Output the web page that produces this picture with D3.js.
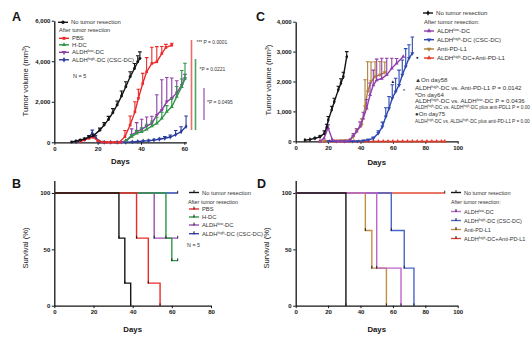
<!DOCTYPE html>
<html>
<head>
<meta charset="utf-8">
<script src="https://cdn.jsdelivr.net/npm/d3@7"></script>
<style>
body { margin: 0; background: #fff; }
svg { display: block; font-family: "Liberation Sans", Arial, sans-serif; }
</style>
</head>
<body>
<svg id="fig" width="531" height="337"></svg>
<script>
"use strict";

// ---- Tumor growth, panel A: [day, mean volume (mm3), upper error] ----
var growthA_noResection = [[8,20,0],[10,60,0],[12,110,20],[14,160,40],[16,260,60],[18,320,80],[21,600,100],[23,850,120],[25,1130,150],[27,1460,200],[29,1840,200],[31,2280,250],[33,2740,250],[35,3230,250],[37,3640,250],[38.5,3970,300],[39.5,4140,320]];
var growthA_pbs = [[12,40,0],[14,120,30],[16,200,50],[18,250,60],[20,80,0],[22,10,0],[24,0,0],[26,0,0],[28,0,0],[30,0,0],[32.6,280,300],[35,850,450],[37.2,1500,500],[38.8,2170,450],[40.8,2900,500],[42.6,3480,700],[45,3890,800],[47.3,3970,750],[49.6,4380,350],[51.5,4680,150],[54.2,4790,100]];
var growthA_hdc = [[33,80,0],[35.7,280,100],[38,440,150],[40.3,520,200],[42.6,640,250],[45,800,250],[47.3,935,300],[49.6,1180,300],[51.9,1510,300],[54.2,1750,400],[56.5,2250,500],[58.8,2740,800],[60.3,3150,750]];
var growthA_lowDC = [[31,0,0],[33.4,100,0],[35.7,360,300],[38,520,450],[40.3,640,500],[42.6,800,450],[45,935,350],[47.3,1345,1000],[49.6,1590,1500],[51.9,2000,1200],[54.2,2170,1000],[56.5,2440,600],[58.8,2820,300],[60.3,3150,200]];
var growthA_highDC = [[10,20,0],[12,60,20],[14,150,50],[16,250,80],[17.5,450,150],[19,250,80],[21,30,0],[23,0,0],[26,0,0],[29,0,0],[33,0,0],[36,20,0],[38.5,40,0],[41,60,20],[43.5,80,30],[46,110,40],[48.5,150,50],[51,200,80],[53.5,260,100],[56,380,200],[58.5,520,250],[60.8,780,520]];

// ---- Tumor growth, panel C ----
var growthC_noResection = [[5.7,40,0],[8.8,60,0],[11.9,100,20],[15,150,30],[17.7,270,80],[19.1,470,100],[20.1,710,120],[22.2,1050,120],[23.8,1320,120],[26.3,1720,120],[27.9,1940,150],[29.4,2160,150],[31.5,2830,170]];
var growthC_lowDC = [[15,0,0],[17.5,100,0],[20,450,100],[22.6,50,0],[25,0,0],[28,0,0],[31,0,0],[33.5,50,0],[35.6,200,60],[37.6,330,80],[39.7,500,150],[41.7,770,200],[43.8,1100,300],[45.9,1550,400],[47.9,1880,500],[50,2050,700],[53.1,2100,680],[56.2,2220,560],[59.3,2440,340],[62.3,2610,160],[66.4,2830,0]];
var growthC_antiPD = [[15,0,0],[33.5,50,0],[35.5,150,50],[37.6,330,100],[40.7,550,200],[42.8,1160,900],[44.4,1660,1000],[46.5,2000,650],[49,2160,500],[52,2220,450],[55,2300,350]];
var growthC_highDC = [[20,0,0],[25,0,0],[30,0,0],[35,0,0],[38,0,0],[41.7,20,0],[44.8,50,20],[47.9,100,40],[51,270,80],[53.5,490,150],[55.6,820,300],[57.6,1100,400],[59.6,1440,450],[61.7,1660,450],[63.8,1880,500],[65.8,2220,500],[67.9,2500,600],[69.9,2780,450],[72,2940,550]];
var growthC_combo = [[15,0,0],[18,0,0],[21,0,0],[24,0,0],[27,0,0],[30,0,0],[33,0,0],[36,0,0],[39,0,0],[42,0,0],[45,0,0],[48,0,0],[51,0,0],[54,0,0],[57,0,0],[60,0,0],[63,0,0],[66,0,0],[69,0,0],[72,0,0],[75,0,0],[78,0,0],[81,0,0],[84,0,0],[87,0,0],[90,0,0],[92,0,0]];

// ---- Survival, panel B: [day, percent surviving] ----
var survB_noResection = [[0,100],[33,60],[36,20],[39,0]];
var survB_pbs = [[0,100],[42,60],[48,20],[54,0]];
var survB_hdc = [[0,100],[57,60],[60,40],[63,40]];
var survB_lowDC = [[0,100],[51,60],[63,60]];
var survB_highDC = [[0,100],[63,100]];

// ---- Survival, panel D ----
var survD_noResection = [[0,100],[31,0]];
var survD_antiPD = [[0,100],[43,66.7],[47,33.3],[56,0]];
var survD_lowDC = [[0,100],[50,33.3],[65,0]];
var survD_highDC = [[0,100],[59,66.7],[67,33.3],[73,0]];
var survD_combo = [[0,100],[92,100]];

// ---- tick values ----
var ticksA_x = [0, 20, 40, 60];
var ticksA_y = [0, 2000, 4000, 6000];
var ticksC_x = [0, 20, 40, 60, 80, 100];
var ticksC_y = [0, 1000, 2000, 3000, 4000];
var ticksB_x = [0, 20, 40, 60, 80];
var ticksD_x = [0, 20, 40, 60, 80, 100];
var ticksSurv_y = [0, 50, 100];

// legend labels, as [text, superscript?] pieces
var lblNoResection = [["No tumor resection"]];
var lblPBS = [["PBS"]];
var lblHDC = [["H-DC"]];
var lblLow = [["ALDH"], ["low", 1], ["-DC"]];
var lblHigh = [["ALDH"], ["high", 1], ["-DC (CSC-DC)"]];
var lblAnti = [["Anti-PD-L1"]];
var lblCombo = [["ALDH"], ["high", 1], ["-DC+Anti-PD-L1"]];

var BLACK = "#151515";

var svg = d3.select("#fig");

function rich(textSel, parts) {
    parts.forEach(function(p) {
        var t = textSel.append("tspan").text(p[0]);
        if (p[1]) t.attr("baseline-shift", "super").style("font-size", "65%");
    });
    return textSel;
}

function styleAxis(sel, fs) {
    sel.select(".domain").attr("stroke", BLACK).attr("stroke-width", 1.3);
    sel.selectAll(".tick line").attr("stroke", BLACK).attr("stroke-width", 1);
    sel.selectAll(".tick text").attr("fill", BLACK).style("font-size", fs + "px").style("font-weight", "bold");
}

function frame(cfg) {
    var x = d3.scaleLinear().domain(cfg.xDomain).range(cfg.xRange);
    var y = d3.scaleLinear().domain(cfg.yDomain).range(cfg.yRange);
    var g = svg.append("g");

    var xa = g.append("g").attr("transform", "translate(0," + cfg.yRange[0] + ")")
        .call(d3.axisBottom(x).tickValues(cfg.xTicks).tickSize(2.5).tickSizeOuter(0).tickPadding(2));
    styleAxis(xa, 6);
    var ya = g.append("g").attr("transform", "translate(" + cfg.xRange[0] + ",0)")
        .call(d3.axisLeft(y).tickValues(cfg.yTicks).tickFormat(d3.format(",")).tickSize(2.5).tickSizeOuter(0).tickPadding(1.5));
    styleAxis(ya, 6);

    g.append("text")
        .attr("x", (cfg.xRange[0] + cfg.xRange[1]) / 2).attr("y", cfg.daysY)
        .attr("text-anchor", "middle").attr("fill", BLACK)
        .style("font-size", "7.8px").style("font-weight", "bold")
        .text("Days");

    var yt = g.append("text")
        .attr("transform", "translate(" + cfg.titleX + "," + cfg.titleY + ") rotate(-90)")
        .attr("text-anchor", "middle").attr("fill", BLACK)
        .style("font-size", "7.6px");
    rich(yt, cfg.yTitle);

    g.append("text").attr("x", cfg.letter[1]).attr("y", cfg.letter[2])
        .attr("fill", BLACK).style("font-size", "12.5px").style("font-weight", "bold")
        .text(cfg.letter[0]);

    return { g: g, x: x, y: y };
}

// Mean tumor volume with upward error bars and symbols.
function growthSeries(p, data, color, symType, rotate, width) {
    var g = p.g.append("g");
    g.selectAll("path.err").data(data.filter(function(d) { return d[2] > 0; }))
        .enter().append("path")
        .attr("class", "err")
        .attr("d", function(d) {
            var cx = p.x(d[0]), y0 = p.y(d[1]), y1 = p.y(d[1] + d[2]);
            return "M" + cx + "," + y0 + "V" + y1 + "M" + (cx - 1.8) + "," + y1 + "H" + (cx + 1.8);
        })
        .attr("fill", "none").attr("stroke", color).attr("stroke-width", 1.1);
    g.append("path").datum(data)
        .attr("d", d3.line().x(function(d) { return p.x(d[0]); }).y(function(d) { return p.y(d[1]); }))
        .attr("fill", "none").attr("stroke", color).attr("stroke-width", width || 1.4);
    g.selectAll("path.sym").data(data).enter().append("path")
        .attr("class", "sym")
        .attr("transform", function(d) { return "translate(" + p.x(d[0]) + "," + p.y(d[1]) + ") rotate(" + (rotate || 0) + ")"; })
        .attr("d", d3.symbol().type(symType).size(7))
        .attr("fill", color);
}

// Kaplan-Meier step curve with event / censor ticks.
function survivalSeries(p, data, color) {
    var g = p.g.append("g");
    g.append("path").datum(data)
        .attr("d", d3.line().curve(d3.curveStepAfter).x(function(d) { return p.x(d[0]); }).y(function(d) { return p.y(d[1]); }))
        .attr("fill", "none").attr("stroke", color).attr("stroke-width", 1.4);
    g.selectAll("path.tick").data(data.slice(1)).enter().append("path")
        .attr("class", "tick")
        .attr("d", function(d) {
            var cx = p.x(d[0]), cy = p.y(d[1]);
            return "M" + cx + "," + (cy + 0.5) + "V" + (cy - 2.3);
        })
        .attr("stroke", BLACK).attr("stroke-width", 0.9);
}

function growthLegend(g, lx, ly, color, symType, rotate, label, fs) {
    g.append("line").attr("x1", lx).attr("x2", lx + 10).attr("y1", ly).attr("y2", ly)
        .attr("stroke", color).attr("stroke-width", 1.4);
    g.append("path").attr("transform", "translate(" + (lx + 5) + "," + ly + ") rotate(" + (rotate || 0) + ")")
        .attr("d", d3.symbol().type(symType).size(9)).attr("fill", color);
    rich(g.append("text").attr("x", lx + 13).attr("y", ly + 2).attr("fill", "#333").style("font-size", fs + "px"), label);
}

function survLegend(g, lx, ly, color, label, fs) {
    g.append("line").attr("x1", lx).attr("x2", lx + 10).attr("y1", ly).attr("y2", ly)
        .attr("stroke", color).attr("stroke-width", 1.4);
    g.append("path").attr("d", "M" + (lx + 5) + "," + (ly + 0.5) + "V" + (ly - 2.4))
        .attr("stroke", BLACK).attr("stroke-width", 1);
    rich(g.append("text").attr("x", lx + 13).attr("y", ly + 2).attr("fill", "#333").style("font-size", fs + "px"), label);
}

function note(g, tx, ty, parts, fs, color) {
    return rich(g.append("text").attr("x", tx).attr("y", ty).attr("fill", color || "#333").style("font-size", fs + "px"), parts);
}

// shrink a text so it stays inside the drawing
function fitRight(textSel, maxRight) {
    var node = textSel.node();
    var w = node.getComputedTextLength();
    var left = +textSel.attr("x");
    if (left + w > maxRight) {
        var fs = parseFloat(textSel.style("font-size"));
        textSel.style("font-size", (fs * (maxRight - left) / w) + "px");
    }
}

var volTitle = [["Tumor volume (mm"], ["3", 1], [")"]];
var survTitle = [["Survival (%)"]];

// ================= A =================
var pA = frame({
    xDomain: [0, 61], xRange: [54.3, 186.5], yDomain: [0, 6000], yRange: [142.3, 20.7],
    xTicks: ticksA_x, yTicks: ticksA_y, daysY: 164, titleX: 28, titleY: 81,
    yTitle: volTitle, letter: ["A", 12, 21]
});
growthSeries(pA, growthA_highDC, "#2a3c9e", d3.symbolDiamond);
growthSeries(pA, growthA_lowDC, "#8b3fa5", d3.symbolTriangle, 180);
growthSeries(pA, growthA_hdc, "#2e9748", d3.symbolTriangle);
growthSeries(pA, growthA_pbs, "#ec2a2a", d3.symbolSquare);
growthSeries(pA, growthA_noResection, BLACK, d3.symbolCircle);

growthLegend(pA.g, 58, 22.3, BLACK, d3.symbolCircle, 0, lblNoResection, 5.9);
note(pA.g, 59, 31.8, [["After tumor resection"]], 5.5);
growthLegend(pA.g, 59, 38.3, "#ec2a2a", d3.symbolSquare, 0, lblPBS, 5.9);
growthLegend(pA.g, 59, 44.8, "#2e9748", d3.symbolTriangle, 0, lblHDC, 5.9);
growthLegend(pA.g, 59, 52.3, "#8b3fa5", d3.symbolTriangle, 180, lblLow, 5.9);
growthLegend(pA.g, 59, 59.8, "#2a3c9e", d3.symbolDiamond, 0, lblHigh, 5.9);
note(pA.g, 73, 78, [["N = 5"]], 5.5);

// significance bars
pA.g.append("line").attr("x1", 191.5).attr("x2", 191.5).attr("y1", 40).attr("y2", 130).attr("stroke", "#ef6a6a").attr("stroke-width", 1.6);
pA.g.append("line").attr("x1", 195.5).attr("x2", 195.5).attr("y1", 59).attr("y2", 130).attr("stroke", "#4aa862").attr("stroke-width", 1.6);
pA.g.append("line").attr("x1", 204).attr("x2", 204).attr("y1", 88).attr("y2", 120).attr("stroke", "#b07ac4").attr("stroke-width", 1.6);
note(pA.g, 196.5, 44, [["*** P = 0.0001"]], 4.9);
note(pA.g, 199.5, 71, [["*P = 0.0221"]], 4.9);
note(pA.g, 207, 104, [["*P = 0.0495"]], 4.9);

// ================= C =================
var pC = frame({
    xDomain: [0, 100], xRange: [295.7, 457.7], yDomain: [0, 4000], yRange: [141.3, 21.7],
    xTicks: ticksC_x, yTicks: ticksC_y, daysY: 165, titleX: 271, titleY: 80,
    yTitle: volTitle, letter: ["C", 256, 21]
});
growthSeries(pC, growthC_combo, "#e8392b", d3.symbolTriangle, 0, 1.1);
growthSeries(pC, growthC_antiPD, "#b0803c", d3.symbolTriangle, 180);
growthSeries(pC, growthC_highDC, "#2e49b0", d3.symbolTriangle, 180);
growthSeries(pC, growthC_lowDC, "#9140ad", d3.symbolTriangle);
growthSeries(pC, growthC_noResection, BLACK, d3.symbolDiamond);

// day-specific marks above the curves
note(pC.g, 390.5, 83, [["\u25B2"]], 4.6, BLACK);
note(pC.g, 403, 92.5, [["*"]], 5.5, BLACK);
note(pC.g, 416, 58.5, [["\u25CF"]], 4.6, BLACK);

growthLegend(pC.g, 423, 13, BLACK, d3.symbolDiamond, 0, lblNoResection, 6.1);
note(pC.g, 424, 23.5, [["After tumor resection:"]], 5.8);
growthLegend(pC.g, 424, 31, "#9140ad", d3.symbolTriangle, 0, lblLow, 6.1);
growthLegend(pC.g, 424, 39.7, "#2e49b0", d3.symbolTriangle, 180, lblHigh, 6.1);
growthLegend(pC.g, 424, 49, "#b0803c", d3.symbolTriangle, 180, lblAnti, 6.1);
growthLegend(pC.g, 424, 58, "#e8392b", d3.symbolTriangle, 0, lblCombo, 6.1);

var fsN = 6.1;
var statNotes = [
    note(pC.g, 415, 82, [["\u25B2On day58"]], fsN),
    note(pC.g, 415, 89.5, [["ALDH"], ["high", 1], ["-DC vs. Anti-PD-L1 P = 0.0142"]], fsN),
    note(pC.g, 415, 96.5, [["*On day64"]], fsN),
    note(pC.g, 415, 103.2, [["ALDH"], ["high", 1], ["-DC vs. ALDH"], ["low", 1], ["-DC P = 0.0436"]], fsN),
    note(pC.g, 415, 109.4, [["ALDH"], ["high", 1], ["-DC vs. ALDH"], ["high", 1], ["-DC plus anti-PDL1 P = 0.00"]], fsN),
    note(pC.g, 415, 116, [["\u25CFOn day75"]], fsN),
    note(pC.g, 415, 123.3, [["ALDH"], ["high", 1], ["-DC vs. ALDH"], ["high", 1], ["-DC plus anti-PD-L1 P = 0.00"]], fsN)
];
statNotes.forEach(function(t) { fitRight(t, 530); });

// ================= B =================
var pB = frame({
    xDomain: [0, 80], xRange: [54.3, 211], yDomain: [0, 111], yRange: [305.7, 180.6],
    xTicks: ticksB_x, yTicks: ticksSurv_y, daysY: 332, titleX: 28, titleY: 248,
    yTitle: survTitle, letter: ["B", 12, 188]
});
survivalSeries(pB, survB_highDC, "#2e45b3");
survivalSeries(pB, survB_lowDC, "#9a4db3");
survivalSeries(pB, survB_hdc, "#2e9748");
survivalSeries(pB, survB_pbs, "#ec2a2a");
survivalSeries(pB, survB_noResection, BLACK);

survLegend(pB.g, 189, 192.5, BLACK, lblNoResection, 5.8);
note(pB.g, 188, 203.5, [["After tumor resection"]], 5.4);
survLegend(pB.g, 189, 209, "#ec2a2a", lblPBS, 5.8);
survLegend(pB.g, 189, 217, "#2e9748", lblHDC, 5.8);
survLegend(pB.g, 189, 225, "#9a4db3", lblLow, 5.8);
survLegend(pB.g, 189, 233.7, "#2e45b3", lblHigh, 5.8);
note(pB.g, 187, 247, [["N = 5"]], 5.4);

// ================= D =================
var pD = frame({
    xDomain: [0, 100], xRange: [295.7, 457.7], yDomain: [0, 111], yRange: [305.7, 180.6],
    xTicks: ticksD_x, yTicks: ticksSurv_y, daysY: 332, titleX: 269, titleY: 248,
    yTitle: survTitle, letter: ["D", 257, 188]
});
survivalSeries(pD, survD_combo, "#e04a35");
survivalSeries(pD, survD_highDC, "#4a64c8");
survivalSeries(pD, survD_antiPD, "#c48f45");
survivalSeries(pD, survD_lowDC, "#bf66cc");
survivalSeries(pD, survD_noResection, BLACK);

survLegend(pD.g, 451, 192.5, BLACK, lblNoResection, 5.5);
note(pD.g, 451, 203.5, [["After tumor resection:"]], 5.2);
survLegend(pD.g, 451, 211.5, "#bf66cc", lblLow, 5.5);
survLegend(pD.g, 451, 220.5, "#4a64c8", lblHigh, 5.5);
survLegend(pD.g, 451, 229.5, "#c48f45", lblAnti, 5.5);
survLegend(pD.g, 451, 238.5, "#e04a35", lblCombo, 5.5);
</script>
</body>
</html>
